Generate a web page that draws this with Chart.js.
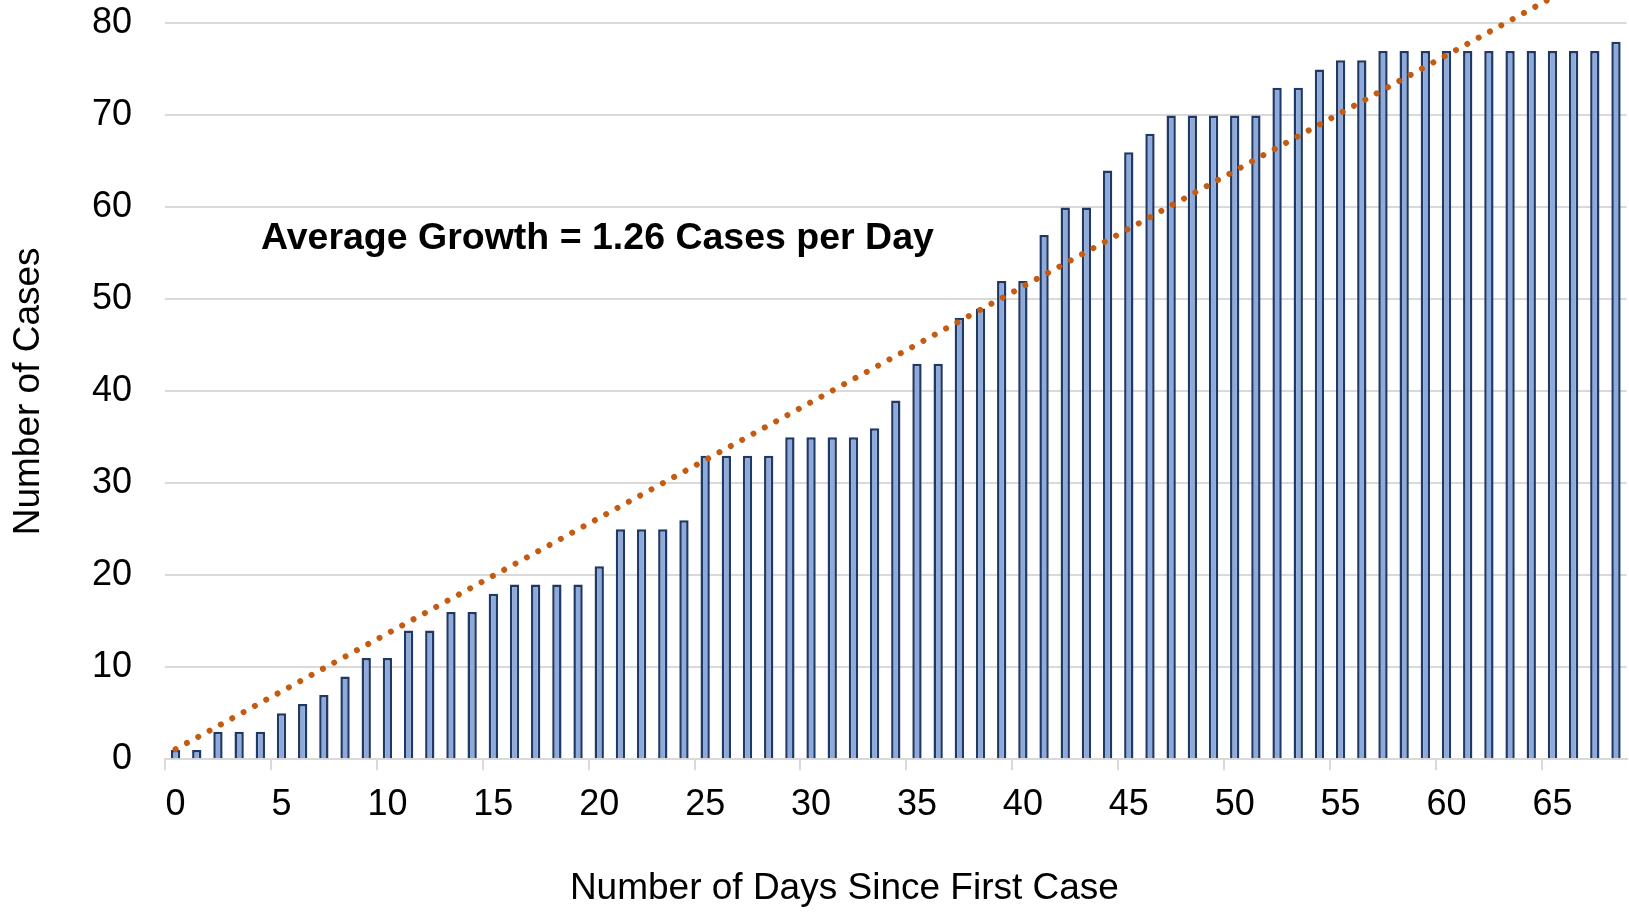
<!DOCTYPE html>
<html>
<head>
<meta charset="utf-8">
<script src="https://cdn.jsdelivr.net/npm/chart.js@4.4.1/dist/chart.umd.min.js"></script>
<style>
  html, body { margin: 0; padding: 0; background: #fff; }
  canvas { display: block; }
</style>
</head>
<body>
<canvas id="casesChart" width="1629" height="915"></canvas>
<script>
// days since first case (x categories)
const days = [0,1,2,3,4,5,6,7,8,9,10,11,12,13,14,15,16,17,18,19,20,21,22,23,24,25,26,27,28,29,
  30,31,32,33,34,35,36,37,38,39,40,41,42,43,44,45,46,47,48,49,50,51,52,53,54,55,56,57,58,59,
  60,61,62,63,64,65,66,67,68];

// cumulative number of cases
const cases = [1,1,3,3,3,5,6,7,9,11,11,14,14,16,16,18,19,19,19,19,21,25,25,25,26,33,33,33,33,35,
  35,35,35,36,39,43,43,48,49,52,52,57,60,60,64,66,68,70,70,70,70,70,73,73,75,76,76,77,77,77,
  77,77,77,77,77,77,77,77,78];

// linear trend line, read at first and last day
const trendStart = 1.1;
const trendEnd = 86.6;

const yTicks = [0, 10, 20, 30, 40, 50, 60, 70, 80];
const growthNote = "Average Growth = 1.26 Cases per Day";

const trend = days.map((d, i) => i === 0 ? trendStart : (i === days.length - 1 ? trendEnd : null));

const FONT = "'Liberation Sans', Arial, sans-serif";

// --------------------
// annotation text
// --------------------
const notePlugin = {
  id: "growthNote",
  afterDatasetsDraw(chart) {
    const { ctx, chartArea, scales } = chart;
    ctx.save();
    ctx.font = "bold 37.5px " + FONT;
    ctx.fillStyle = "#000";
    ctx.textAlign = "left";
    ctx.textBaseline = "middle";
    ctx.fillText(growthNote, chartArea.left + 96, scales.y.getPixelForValue(56.6));
    ctx.restore();
  }
};

new Chart(document.getElementById("casesChart"), {
  type: "bar",
  data: {
    labels: days,
    datasets: [
      {
        type: "line",
        label: "Trend",
        data: trend,
        spanGaps: true,
        borderColor: "#c55a11",
        borderWidth: 6,
        borderCapStyle: "round",
        borderDash: [0.01, 12.9],
        pointRadius: 0,
        fill: false,
        clip: false,
        order: 0
      },
      {
        label: "Cases",
        data: cases,
        backgroundColor: "#8eaadb",
        borderColor: "#203864",
        borderWidth: 2.5,
        barPercentage: 1,
        categoryPercentage: 0.44,
        order: 1
      }
    ]
  },
  options: {
    responsive: false,
    animation: false,
    devicePixelRatio: 1,
    layout: { padding: { top: 23.4, right: 1.2, left: 0, bottom: 0 } },
    plugins: {
      legend: { display: false },
      tooltip: { enabled: false }
    },
    scales: {
      x: {
        offset: true,
        afterFit(scale) { scale.height = 155.7; },
        grid: {
          offset: true,
          drawOnChartArea: false,
          drawTicks: true,
          tickLength: 11,
          lineWidth: 2,
          color: ctx => ctx.index % 5 === 0 ? "#d9d9d9" : "rgba(0,0,0,0)"
        },
        border: { display: true, color: "#d9d9d9", width: 2 },
        ticks: {
          autoSkip: false,
          maxRotation: 0,
          minRotation: 0,
          padding: 13,
          color: "#000",
          font: { family: FONT, size: 36 },
          callback(value, index) { return index % 5 === 0 ? String(days[index]) : ""; }
        },
        title: {
          display: true,
          text: "Number of Days Since First Case          ",
          color: "#000",
          font: { family: FONT, size: 37 },
          padding: { top: 0, bottom: 4 }
        }
      },
      y: {
        min: yTicks[0],
        max: yTicks[yTicks.length - 1],
        afterFit(scale) {
          scale.width = 165;
          // label padding would otherwise push the plot top down
          scale.paddingTop = 0;
          scale.paddingBottom = 0;
        },
        afterBuildTicks(scale) { scale.ticks = yTicks.map(v => ({ value: v })); },
        grid: { color: "#d9d9d9", lineWidth: 2, drawTicks: false },
        border: { display: false },
        ticks: {
          padding: 33,
          color: "#000",
          font: { family: FONT, size: 36 }
        },
        title: {
          display: true,
          text: "Number of Cases",
          color: "#000",
          font: { family: FONT, size: 37 },
          padding: { top: 6.8, bottom: 0 }
        }
      }
    }
  },
  plugins: [notePlugin]
});
</script>
</body>
</html>
